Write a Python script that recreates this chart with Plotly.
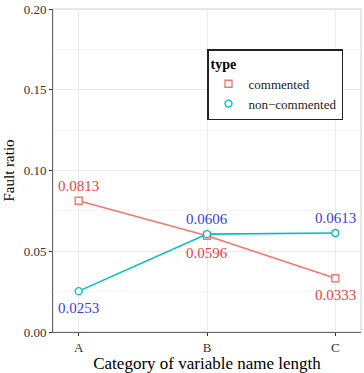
import plotly.graph_objects as go

categories = ["A", "B", "C"]
commented = [0.0813, 0.0596, 0.0333]
non_commented = [0.0253, 0.0606, 0.0613]
commented_pos = ["above", "below", "below"]
non_commented_pos = ["below", "above", "above"]
y_ticks = [0.00, 0.05, 0.10, 0.15, 0.20]

FONT = "Liberation Serif"
RED = "#F8766D"
TEAL = "#00BFC4"

fig = go.Figure()

series = [
    ("commented", commented, RED, "square", commented_pos, "#F03C3C"),
    ("non\u2212commented", non_commented, TEAL, "circle", non_commented_pos, "#3C3CE6"),
]

for name, vals, col, sym, pos, tcol in series:
    fig.add_trace(go.Scatter(
        x=categories, y=vals, mode="lines", line=dict(color=col, width=1.6),
        showlegend=False, hoverinfo="skip"))
    fig.add_trace(go.Scatter(
        x=categories, y=vals, mode="markers", name=name,
        marker=dict(symbol=sym, size=7, color="white",
                    line=dict(color=col, width=1.4))))
    for c, v, p in zip(categories, vals, pos):
        fig.add_annotation(
            x=c, y=v, text=f"{v:.4f}", showarrow=False,
            yshift=15 if p == "above" else -17,
            font=dict(family=FONT, size=15, color=tcol))

fig.add_shape(type="rect", xref="paper", yref="paper", x0=0, y0=0, x1=1, y1=1,
              line=dict(color="#D0D0D0", width=1), layer="below")

fig.update_layout(
    width=364, height=373,
    margin=dict(l=53, r=3, t=9, b=41),
    plot_bgcolor="white", paper_bgcolor="white",
    font=dict(family=FONT, size=13, color="#333333"),
    legend=dict(
        x=0.5, y=0.876, xanchor="left", yanchor="top",
        bordercolor="#222222", borderwidth=1.5, bgcolor="white",
        title=dict(text="<b>type</b>", font=dict(family=FONT, size=14, color="black")),
        font=dict(family=FONT, size=13, color="#222222"),
        tracegroupgap=0, itemwidth=30,
    ),
    xaxis=dict(
        type="category", range=[-0.2, 2.2], automargin=False,
        showgrid=True, gridcolor="#EBEBEB", gridwidth=1,
        ticks="outside", ticklen=3, tickcolor="#333333",
        tickfont=dict(family=FONT, size=13, color="#333333"),
        showline=True, linecolor="#666666", linewidth=1,
        title=dict(text="Category of variable name length",
                   font=dict(family=FONT, size=17, color="black"), standoff=14),
        zeroline=False,
    ),
    yaxis=dict(
        range=[0, 0.2], tickvals=y_ticks, tickformat=".2f", automargin=False,
        showgrid=True, gridcolor="#EBEBEB", gridwidth=1,
        minor=dict(showgrid=True, gridcolor="#F5F5F5", dtick=0.025, tick0=0.025),
        ticks="outside", ticklen=3, tickcolor="#333333",
        tickfont=dict(family=FONT, size=13, color="#333333"),
        showline=True, linecolor="#666666", linewidth=1,
        title=dict(text="Fault ratio", font=dict(family=FONT, size=15, color="black"), standoff=5),
        zeroline=False,
    ),
)

fig.write_html("out.html")
